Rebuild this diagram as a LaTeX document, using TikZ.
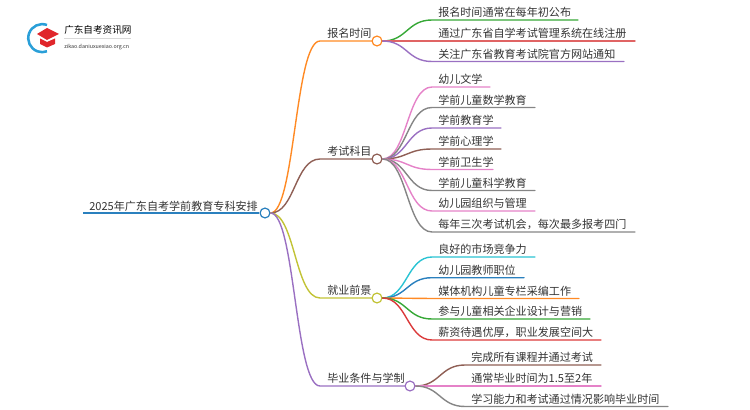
\documentclass[tikz,border=0pt]{standalone}
\usepackage{fontspec}
\setmainfont{Noto Sans CJK SC}
\definecolor{cblue}{HTML}{2A80BE}
\definecolor{corange}{HTML}{FF8A24}
\definecolor{cgreen}{HTML}{36A836}
\definecolor{cred}{HTML}{DB3A3B}
\definecolor{credsoft}{HTML}{E06464}
\definecolor{cpurple}{HTML}{9A70C2}
\definecolor{cbrown}{HTML}{8F5F55}
\definecolor{cpink}{HTML}{E582C8}
\definecolor{cgray}{HTML}{858585}
\definecolor{colive}{HTML}{C2C336}
\definecolor{ccyan}{HTML}{2AC3D3}
\definecolor{ctext}{HTML}{333333}
\definecolor{clogoblue}{HTML}{2A9FD8}
\definecolor{clogored}{HTML}{E0262B}
\tikzset{
  lbl/.style={inner sep=0pt,anchor=base west,text=ctext,font=\fontsize{8.3}{10}\selectfont},
  dot/.style={circle,draw=#1,fill=white,line width=0.9pt,inner sep=0pt,minimum size=7.4pt},
  edge/.style={draw=#1,line width=1.05pt,line cap=round},
}
% name, parent, parent x, parent y, line y, line end x, colour, text
\newcommand{\leafnode}[8]{%
  \node[lbl] (#1) at (#3+61,#5-3.3) {#8};
  \coordinate (#1k) at (#3+55,#5);
  \coordinate (#1e) at (#6,#5);
  \draw[edge=#7] (#2.east) .. controls (#3+30,#4) and (#3+30,#5) .. (#1k) -- (#1e);
}
% name, dot name, y, label x, colour, dot x, text
\newcommand{\topicnode}[7]{%
  \node[dot=#5] (#2) at (#6,#3) {};
  \node[lbl] (#1) at (#4,#3-3.3) {#7};
  \coordinate (#1k) at (320,#3);
  \draw[edge=#5] (root.east) .. controls (295,213) and (295,#3) .. (#1k) -- (#2.west);
}
\begin{document}
\begin{tikzpicture}[x=0.75pt,y=-0.75pt]
\useasboundingbox (0,0) rectangle (750,410);
% logo
\draw[clogoblue,line width=1.9pt] (47,25) arc[start angle=-70,end angle=-290,radius=14];
\fill[clogored] (47,28) -- (59,34) -- (47,40) -- (37,34) -- cycle;
\fill[clogored] (40,38.5) -- (47,42) -- (55,38.5) -- (55,44) -- (47,47.5) -- (40,44) -- cycle;
\node[inner sep=0pt,anchor=west,text=black,font=\fontsize{7.2}{9}\selectfont] (logoa) at (64,30) {广东自考资讯网};
\node[inner sep=0pt,anchor=west,text=ctext,font=\fontsize{4}{5}\selectfont] (logob) at (64,47) {zikao.daniuxuexiao.org.cn};
\draw[black!15,line width=0.4pt] (logoa.south west)++(0,3) -- ++(67,0);
% root
\node[dot=cblue] (root) at (265,213) {};
\node[lbl] (roott) at (89,210) {2025年广东自考学前教育专科安排};
\coordinate (rootk) at (83,213);
\draw[cblue,line width=1.6pt] (rootk) -- (root.west);
% topics
\topicnode{t1}{d1}{41}{327}{corange}{377}{报名时间}
\topicnode{t2}{d2}{159}{327}{cbrown}{377}{考试科目}
\topicnode{t3}{d3}{298}{327}{colive}{377}{就业前景}
\topicnode{t4}{d4}{386}{327}{cpurple}{410}{毕业条件与学制}
% leaves of topic 1
\leafnode{a1}{d1}{377}{41}{20}{578}{cgreen}{报名时间通常在每年初公布}
\leafnode{a2}{d1}{377}{41}{41}{635}{credsoft}{通过广东省自学考试管理系统在线注册}
\leafnode{a3}{d1}{377}{41}{61.5}{624}{cpurple}{关注广东省教育考试院官方网站通知}
% leaves of topic 2
\leafnode{b1}{d2}{377}{159}{87}{490}{cpink}{幼儿文学}
\leafnode{b2}{d2}{377}{159}{107.5}{535}{cgray}{学前儿童数学教育}
\leafnode{b3}{d2}{377}{159}{128}{501}{cpurple}{学前教育学}
\leafnode{b4}{d2}{377}{159}{149}{501}{cbrown}{学前心理学}
\leafnode{b5}{d2}{377}{159}{169.5}{493}{cpink}{学前卫生学}
\leafnode{b6}{d2}{377}{159}{190.5}{535}{cgray}{学前儿童科学教育}
\leafnode{b7}{d2}{377}{159}{211}{535}{cpink}{幼儿园组织与管理}
\leafnode{b8}{d2}{377}{159}{232}{635}{cgray}{每年三次考试机会，每次最多报考四门}
% leaves of topic 3
\leafnode{c1}{d3}{377}{298}{257}{535}{ccyan}{良好的市场竞争力}
\leafnode{c2}{d3}{377}{298}{277.7}{524}{cblue}{幼儿园教师职位}
\leafnode{c3}{d3}{377}{298}{298.5}{579}{corange}{媒体机构儿童专栏采编工作}
\leafnode{c4}{d3}{377}{298}{319}{590}{cgreen}{参与儿童相关企业设计与营销}
\leafnode{c5}{d3}{377}{298}{340}{601}{cred}{薪资待遇优厚，职业发展空间大}
% leaves of topic 4
\leafnode{e1}{d4}{410}{386}{365}{601}{cbrown}{完成所有课程并通过考试}
\leafnode{e2}{d4}{410}{386}{386}{601}{cpink}{通常毕业时间为1.5至2年}
\leafnode{e3}{d4}{410}{386}{406.5}{668}{cgray}{学习能力和考试通过情况影响毕业时间}
\end{tikzpicture}
\end{document}
